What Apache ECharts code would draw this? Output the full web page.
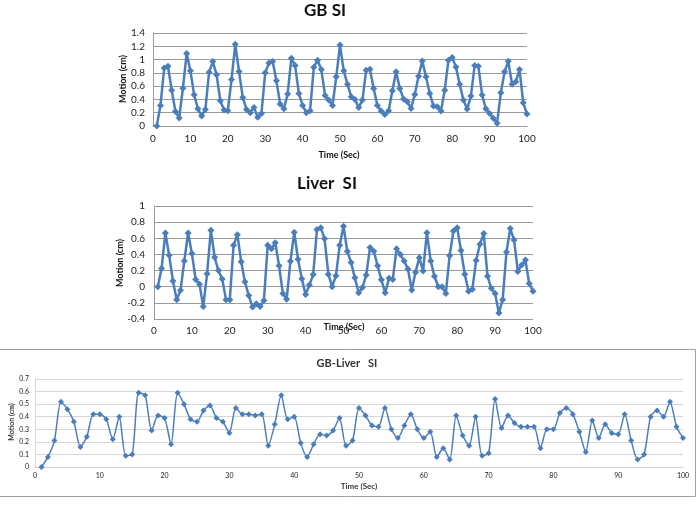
<!DOCTYPE html>
<html><head><meta charset="utf-8">
<script src="https://cdn.jsdelivr.net/npm/echarts@6/dist/echarts.min.js"></script>
<style>html,body{margin:0;padding:0;background:#fff}#c{width:700px;height:506px}</style>
</head><body><div id="c"></div>
<script>
var timeSec = [1,2,3,4,5,6,7,8,9,10,11,12,13,14,15,16,17,18,19,20,21,22,23,24,25,26,27,28,29,30,31,32,33,34,35,36,37,38,39,40,41,42,43,44,45,46,47,48,49,50,51,52,53,54,55,56,57,58,59,60,61,62,63,64,65,66,67,68,69,70,71,72,73,74,75,76,77,78,79,80,81,82,83,84,85,86,87,88,89,90,91,92,93,94,95,96,97,98,99,100];
var gbSI = [0,0.31,0.875,0.9,0.54,0.22,0.12,0.57,1.09,0.83,
  0.47,0.26,0.15,0.25,0.81,0.97,0.77,0.38,0.24,0.23,
  0.70,1.23,0.82,0.43,0.25,0.20,0.28,0.13,0.19,0.80,
  0.95,0.97,0.68,0.33,0.26,0.48,1.02,0.91,0.49,0.31,
  0.20,0.23,0.885,0.99,0.85,0.46,0.39,0.31,0.74,1.22,
  0.83,0.63,0.44,0.40,0.28,0.39,0.84,0.855,0.565,0.31,
  0.225,0.175,0.23,0.53,0.815,0.565,0.405,0.365,0.265,0.475,
  0.75,0.98,0.74,0.49,0.30,0.29,0.225,0.54,0.99,1.03,
  0.89,0.63,0.39,0.255,0.45,0.91,0.90,0.465,0.26,0.19,
  0.115,0.04,0.50,0.815,0.975,0.63,0.665,0.85,0.35,0.18];
var liverSI = [0,0.225,0.665,0.39,0.07,-0.16,-0.045,0.32,0.665,0.41,
  0.09,0.03,-0.245,0.16,0.70,0.365,0.20,0.095,-0.16,-0.16,
  0.515,0.645,0.31,0.06,-0.11,-0.25,-0.21,-0.245,-0.17,0.515,
  0.47,0.545,0.26,-0.085,-0.155,0.315,0.675,0.34,0.10,-0.095,
  0.02,0.15,0.71,0.73,0.595,0.155,0.0,0.135,0.515,0.75,
  0.44,0.30,0.11,-0.075,-0.01,0.145,0.485,0.44,0.26,0.085,
  -0.075,0.105,0.09,0.47,0.40,0.32,0.22,-0.04,0.18,0.36,
  0.195,0.67,0.32,0.13,0.0,0.0,-0.085,0.385,0.69,0.73,
  0.45,0.155,-0.055,-0.03,0.325,0.525,0.66,0.13,-0.02,-0.085,
  -0.325,-0.16,0.43,0.72,0.58,0.19,0.27,0.33,0.04,-0.055];
var gbLiverSI = [0,0.08,0.21,0.52,0.46,0.36,0.16,0.24,0.42,0.42,
  0.38,0.22,0.40,0.09,0.10,0.59,0.57,0.29,0.41,0.39,
  0.18,0.59,0.50,0.38,0.36,0.45,0.49,0.39,0.36,0.27,
  0.47,0.42,0.42,0.41,0.42,0.17,0.34,0.57,0.38,0.40,
  0.19,0.08,0.18,0.26,0.25,0.29,0.39,0.17,0.21,0.47,
  0.41,0.33,0.32,0.47,0.30,0.23,0.33,0.42,0.30,0.23,
  0.28,0.08,0.15,0.06,0.41,0.25,0.17,0.40,0.09,0.11,
  0.54,0.31,0.41,0.35,0.32,0.32,0.32,0.15,0.30,0.30,
  0.43,0.47,0.42,0.28,0.12,0.37,0.23,0.34,0.27,0.26,
  0.42,0.21,0.06,0.10,0.40,0.45,0.40,0.52,0.32,0.23];
var titles = ['GB SI', 'Liver  SI', 'GB-Liver   SI'];
var xName = 'Time (Sec)';
var yName = 'Motion (cm)';

function pairs(v){ return timeSec.map(function(t,i){ return [t, v[i]]; }); }
var FONT = 'Lato, "Open Sans", sans-serif';
var BLUE = '#4A7EBB';

var chart = echarts.init(document.getElementById('c'), null, {renderer:'canvas'});
function xAx(idx, fs, margin, grid){
  return {type:'value', gridIndex:idx, min:0, max:100, interval:10,
    axisLine:{show:true, onZero:true, lineStyle:{color:grid}},
    axisTick:{show:false}, splitLine:{show:false},
    axisLabel:{fontFamily:FONT, fontSize:fs, color:'#222', margin:margin}};
}
function yAx(idx, mn, mx, iv, fs, margin, grid){
  return {type:'value', gridIndex:idx, min:mn, max:mx, interval:iv,
    axisLine:{show:true, lineStyle:{color:grid}}, axisTick:{show:false},
    splitLine:{show:true, lineStyle:{color:grid, width:1}},
    axisLabel:{fontFamily:FONT, fontSize:fs, color:'#222', margin:margin}};
}
function txt(x, y, s, fs, rot, color){
  return {type:'text', x:x, y:y, rotation: rot||0,
    style:{text:s, fontFamily:FONT, fontSize:fs, fontWeight:'bold', fill:color||'#111', align:'center', verticalAlign:'middle'}};
}
chart.setOption({
  animation:false,
  grid:[
    {left:153, top:33, width:374, height:93},
    {left:154, top:206, width:379, height:113},
    {left:35, top:379, width:648, height:88}
  ],
  xAxis:[xAx(0,10,8,'#9a9a9a'), xAx(1,10,7,'#9a9a9a'), xAx(2,7,5,'#cfcfcf')],
  yAxis:[yAx(0,0,1.4,0.2,10,8,'#9a9a9a'), yAx(1,-0.4,1,0.2,10,9,'#9a9a9a'), yAx(2,0,0.7,0.1,7,6,'#d6d6d6')],
  series:[
    {type:'line', xAxisIndex:0, yAxisIndex:0, data:pairs(gbSI), symbol:'diamond', symbolSize:7,
      lineStyle:{color:BLUE, width:2.5}, itemStyle:{color:BLUE}},
    {type:'line', xAxisIndex:1, yAxisIndex:1, data:pairs(liverSI), symbol:'diamond', symbolSize:7,
      lineStyle:{color:BLUE, width:2.5}, itemStyle:{color:BLUE}},
    {type:'line', xAxisIndex:2, yAxisIndex:2, data:pairs(gbLiverSI), symbol:'diamond', symbolSize:6, smooth:0.25,
      lineStyle:{color:BLUE, width:1.5}, itemStyle:{color:BLUE}}
  ],
  graphic:[
    {type:'rect', shape:{x:-2, y:349.5, width:697.5, height:147}, style:{fill:null, stroke:'#a0a0a0', lineWidth:1}},
    txt(325, 11, titles[0], 17),
    txt(327, 184, titles[1], 17),
    txt(347, 363, titles[2], 11, 0, '#333'),
    txt(339, 155, xName, 9),
    txt(344, 327, xName, 9),
    txt(359, 486, xName, 8, 0, '#333'),
    txt(123, 79, yName, 9, Math.PI/2),
    txt(120, 263, yName, 9, Math.PI/2),
    txt(12, 422, yName, 7, Math.PI/2, '#333')
  ]
});
</script></body></html>
